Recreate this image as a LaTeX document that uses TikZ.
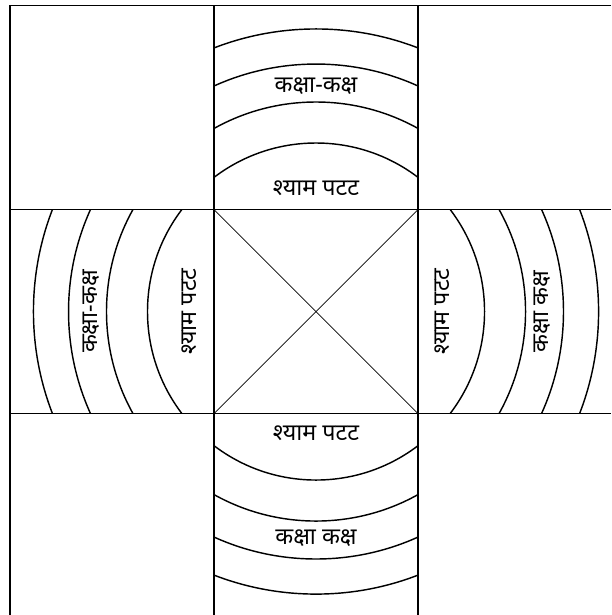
\documentclass[tikz,border=0pt]{standalone}
\usepackage{fontspec}
\newfontfamily\devfont[Script=Devanagari]{Noto Sans}

\begin{document}
\begin{tikzpicture}[x=2cm,y=2cm,
  grid/.style={line width=1pt},
  ring/.style={line width=0.8pt},
  txt/.style={font=\devfont\fontsize{13}{15}\selectfont, inner sep=0pt}]
\useasboundingbox (-3.098,-2.975) rectangle (2.892,3.054);
% outer border, cut at the right and at the bottom
\draw[grid] (2.892,3) -- (-3,3) -- (-3,-2.975);
\draw[grid] (-3,1) -- (2.892,1);
\draw[grid] (-3,-1) -- (2.892,-1);
\draw[grid] (-1,3) -- (-1,-2.975);
\draw[grid] (1,3) -- (1,-2.975);
% the cross in the middle
\draw[-] (-1,1) -- (1,-1);
\draw[-] (-1,-1) -- (1,1);
% the rings, only in the four arms
\begin{scope}
\clip (-1,-3) rectangle (1,3) (-3,-1) rectangle (3,1);
\foreach \r in {1.652,2.054,2.426,2.770}
  \draw[ring] (0,0) circle[radius=\r];
\end{scope}
% top
\node[txt] (topouter) at (0,2.21) {कक्षा-कक्ष};
\node[txt] (topinner) at (0,1.21) {श्याम पटट};
% bottom
\node[txt] (botinner) at (0,-1.19) {श्याम पटट};
\node[txt] (botouter) at (0,-2.22) {कक्षा कक्ष};
% left
\node[txt, rotate=90] (leftouter) at (-2.20,0) {कक्षा-कक्ष};
\node[txt, rotate=90] (leftinner) at (-1.24,0) {श्याम पटट};
% right
\node[txt, rotate=90] (rightinner) at (1.24,0) {श्याम पटट};
\node[txt, rotate=90] (rightouter) at (2.22,0) {कक्षा कक्ष};
\end{tikzpicture}
\end{document}
